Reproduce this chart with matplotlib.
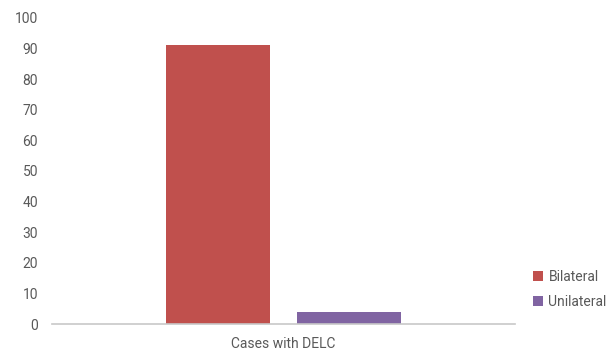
import numpy as np
import matplotlib.pyplot as plt

categories = ["Cases with DELC"]
series = ["Bilateral", "Unilateral"]
values = [[91], [4]]
colors = ["#c0504d", "#8064a2"]
yticks = [0, 10, 20, 30, 40, 50, 60, 70, 80, 90, 100]

plt.rcParams['font.family'] = ['Roboto', 'DejaVu Sans']

fig = plt.figure(figsize=(6.14, 3.52), dpi=100)
ax = fig.add_axes([0.0847, 0.0795, 0.7541, 0.8695])

x = np.arange(len(categories))
width = 0.225
offsets = [-0.142, 0.142]
for name, vals, off, c in zip(series, values, offsets, colors):
    ax.bar(x + off, vals, width, color=c, label=name)

ax.set_xlim(-0.5, 0.5)
ax.set_ylim(0, 100)
ax.set_yticks(yticks)
ax.set_xticks(x)
ax.set_xticklabels(categories)
ax.tick_params(axis='both', length=0, colors='#595959', labelsize=10)
ax.tick_params(axis='y', pad=10)
ax.tick_params(axis='x', pad=9)
for s in ['top', 'right', 'left']:
    ax.spines[s].set_visible(False)
ax.spines['bottom'].set_color('#c8c8c8')
ax.spines['bottom'].set_linewidth(1.2)

leg = fig.legend(loc='center left', bbox_to_anchor=(0.848, 0.178),
                 frameon=False, handlelength=0.7, handleheight=0.7,
                 handletextpad=0.4, labelspacing=0.75, fontsize=10)
for t in leg.get_texts():
    t.set_color('#595959')

fig.savefig('out.png', dpi=100)
